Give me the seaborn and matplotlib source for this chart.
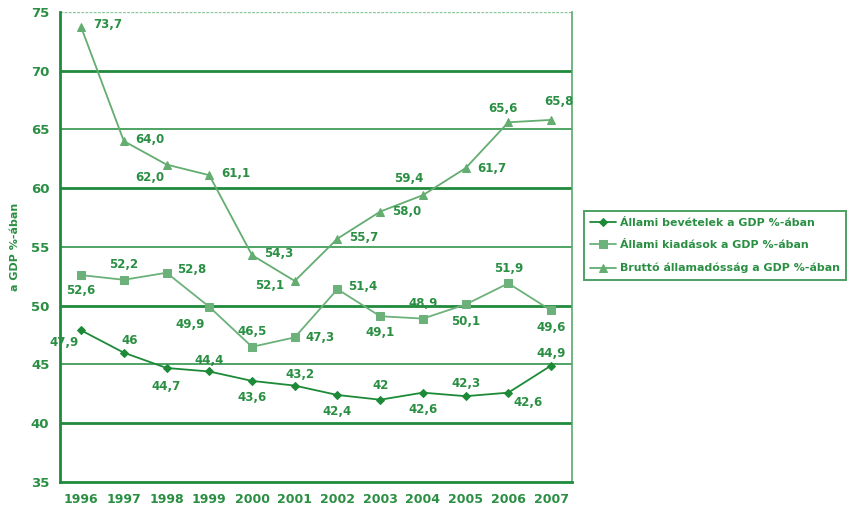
import matplotlib
matplotlib.use("Agg")
import matplotlib.pyplot as plt
import seaborn as sns
import pandas as pd
from matplotlib.ticker import FixedLocator

years = [1996, 1997, 1998, 1999, 2000, 2001, 2002, 2003, 2004, 2005, 2006, 2007]
revenue = [47.9, 46, 44.7, 44.4, 43.6, 43.2, 42.4, 42, 42.6, 42.3, 42.6, 44.9]
expenditure = [52.6, 52.2, 52.8, 49.9, 46.5, 47.3, 51.4, 49.1, 48.9, 50.1, 51.9, 49.6]
debt = [73.7, 64.0, 62.0, 61.1, 54.3, 52.1, 55.7, 58.0, 59.4, 61.7, 65.6, 65.8]

series_names = [
    "Állami bevételek a GDP %-ában",
    "Állami kiadások a GDP %-ában",
    "Bruttó államadósság a GDP %-ában",
]

# label placement per point: (dx, dy) in points
rev_off = [(-12, -9), (4, 9), (0, -13), (0, 8), (0, -12), (4, 8), (0, -12), (0, 10),
           (0, -12), (0, 9), (14, -7), (0, 9)]
exp_off = [(0, -11), (0, 11), (18, 2), (-14, -13), (0, 11), (18, 0), (18, 2), (0, -12),
           (0, 11), (0, -12), (0, 11), (0, -12)]
debt_off = [(19, 2), (19, 1), (-12, -9), (19, 1), (19, 1), (-18, -3), (19, 1), (19, 0),
            (-10, 12), (19, 0), (-4, 10), (6, 13)]

GREEN = "#1f8a3b"
TEXT = "#2a8f43"
colors = ["#1d8a38", "#6cb17a", "#63ad70"]
markers = ["D", "s", "^"]
msizes = [4.5, 5.5, 6]

df = pd.concat([
    pd.DataFrame({"year": years, "value": vals, "series": name})
    for name, vals in zip(series_names, [revenue, expenditure, debt])
])

sns.set_style("white")
fig = plt.figure(figsize=(8.66, 5.12), dpi=100)
ax = fig.add_axes([0.069, 0.0586, 0.592, 0.9184])

# horizontal grid
for y in [40, 50, 60, 70]:
    ax.axhline(y, color=GREEN, lw=2.0, zorder=1)
for y in [45, 55, 65]:
    ax.axhline(y, color=GREEN, lw=1.1, zorder=1)
ax.axhline(75, color="#8cc79a", lw=1.0, ls=(0, (2, 1)), zorder=1)

for name, c, m, ms in zip(series_names, colors, markers, msizes):
    sub = df[df["series"] == name]
    sns.lineplot(data=sub, x="year", y="value", ax=ax, color=c, marker=m,
                 markersize=ms, markeredgecolor=c, markerfacecolor=c,
                 lw=1.3, label=name, zorder=3)

for vals, offs in [(revenue, rev_off), (expenditure, exp_off), (debt, debt_off)]:
    for x, v, (dx, dy) in zip(years, vals, offs):
        ax.annotate(str(v).replace(".", ","), (x, v), xytext=(dx, dy),
                    textcoords="offset points", ha="center", va="center",
                    fontsize=8.5, fontweight="bold", color=TEXT)

ax.set_xlim(1995.5, 2007.5)
ax.set_ylim(35, 75)
ax.set_yticks(range(35, 76, 5))
ax.set_xticks(years)
ax.xaxis.set_minor_locator(FixedLocator([y + 0.5 for y in [1995] + years]))
ax.tick_params(axis="x", which="major", length=0, pad=8, labelsize=9, labelcolor=TEXT)
ax.tick_params(axis="x", which="minor", length=4, color=GREEN, width=1.2, direction="out")
ax.tick_params(axis="y", length=4, color=GREEN, width=1.2, labelsize=9.5,
               labelcolor=TEXT, direction="out")
for lab in ax.get_xticklabels() + ax.get_yticklabels():
    lab.set_fontweight("bold")

for side in ["left", "bottom"]:
    ax.spines[side].set_color(GREEN)
    ax.spines[side].set_linewidth(2.0)
ax.spines["right"].set_color("#5aa86a")
ax.spines["right"].set_linewidth(1.2)
ax.spines["top"].set_visible(False)

ax.set_xlabel("")
ax.set_ylabel("a GDP %-ában", fontsize=8, fontweight="bold", color=TEXT, labelpad=8)

leg = ax.legend(loc="center left", bbox_to_anchor=(1.022, 0.503), frameon=True,
                fontsize=7.9, handlelength=2.3, borderpad=0.6, labelspacing=1.15,
                handletextpad=0.4, borderaxespad=0, fancybox=False, edgecolor=GREEN)
leg.get_frame().set_linewidth(1.4)
for t in leg.get_texts():
    t.set_color(TEXT)
    t.set_fontweight("bold")

fig.savefig("out.png", dpi=100)
